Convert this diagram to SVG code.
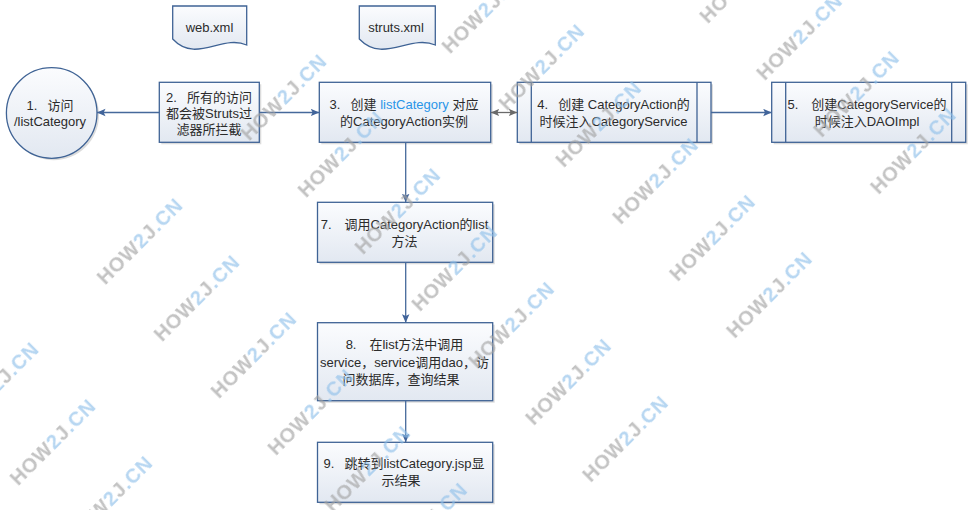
<svg xmlns="http://www.w3.org/2000/svg" width="975" height="510" viewBox="0 0 975 510">
<defs>
<linearGradient id="g" x1="0" y1="0" x2="0" y2="1"><stop offset="0" stop-color="#fbfcfe"/><stop offset="1" stop-color="#e2e8f1"/></linearGradient>
<marker id="ah" markerUnits="userSpaceOnUse" markerWidth="10" markerHeight="9" refX="8.5" refY="4" orient="auto"><path d="M0,0.3 L8.5,4 L0,7.7 L1.8,4 Z" fill="#41649a"/></marker>
<marker id="gh" markerUnits="userSpaceOnUse" markerWidth="10" markerHeight="9" refX="8.5" refY="4" orient="auto-start-reverse"><path d="M0,0.3 L8.5,4 L0,7.7 L1.8,4 Z" fill="#6a6a6a"/></marker>
<pattern id="wm" patternUnits="userSpaceOnUse" x="0" y="0" width="203.6" height="80.5">
<text x="76" y="34.5" font-family="Liberation Sans, sans-serif" font-weight="bold" font-size="20" letter-spacing="0.8"><tspan fill="#a3a3a3">HOW</tspan><tspan fill="#8fc0ea">2</tspan><tspan fill="#a3a3a3">J</tspan><tspan fill="#8fc0ea">.CN</tspan></text>
</pattern>
</defs>
<style>
.box{fill:url(#g);stroke:#3f6395;stroke-width:1.3}
.ln{fill:none;stroke:#3f6395;stroke-width:1.3}
.sh{fill:#dcdcdc}
.t{font-family:"Liberation Sans","Noto Sans CJK SC",sans-serif;font-size:13px;fill:#2b2b2b;text-anchor:middle}
.b{fill:#2a95e8}
.c{fill:none;stroke:#46699b;stroke-width:1.3;marker-end:url(#ah)}
.cg{fill:none;stroke:#6a6a6a;stroke-width:1.3;marker-start:url(#gh);marker-end:url(#gh)}
</style>
<rect width="975" height="510" fill="#ffffff"/>

<g id="web-xml">
<path class="box" d="M172.7,6 H246.7 V45 C222,34 196,64 172.7,39 Z"/>
<text class="t" x="209.5" y="32">web.xml</text>
</g>
<g id="struts-xml">
<path class="box" d="M359.3,6 H435.3 V45 C409.9,34 383.2,64 359.3,39 Z"/>
<text class="t" x="396" y="32">struts.xml</text>
</g>

<g id="n1">
<circle class="sh" cx="53.7" cy="115" r="45.3"/>
<circle class="box" cx="51.7" cy="113" r="45.3"/>
<text class="t" x="50" y="109.6">1.&#160;&#8194;访问</text>
<text class="t" x="50" y="126.1">/listCategory</text>
</g>

<g id="n2">
<rect class="sh" x="161.3" y="84.3" width="100" height="60"/>
<rect class="box" x="159.3" y="82.3" width="100" height="60"/>
<text class="t" x="209" y="101.5">2.&#160;&#8194;所有的访问</text>
<text class="t" x="209" y="118">都会被Struts过</text>
<text class="t" x="209" y="134.4">滤器所拦截</text>
</g>

<g id="n3">
<rect class="sh" x="321.3" y="84.3" width="171.4" height="60"/>
<rect class="box" x="319.3" y="82.3" width="171.4" height="60"/>
<text class="t" x="404" y="109">3.&#160;&#8194;创建 <tspan class="b">listCategory</tspan> 对应</text>
<text class="t" x="404" y="125.5">的CategoryAction实例</text>
</g>

<g id="n4">
<rect class="sh" x="519.3" y="84.3" width="193.7" height="60"/>
<rect class="box" x="517.3" y="82.3" width="193.7" height="60"/>
<path class="ln" d="M531.3,82.3 V142.3 M697,82.3 V142.3"/>
<text class="t" x="613.5" y="109">4.&#160;&#8194;创建 CategoryAction的</text>
<text class="t" x="613.5" y="125.5">时候注入CategoryService</text>
</g>

<g id="n5">
<rect class="sh" x="773.7" y="84.3" width="194" height="60"/>
<rect class="box" x="771.7" y="82.3" width="194" height="60"/>
<path class="ln" d="M785.7,82.3 V142.3 M951.7,82.3 V142.3"/>
<text class="t" x="867" y="109">5.&#8194;&#8194;创建CategoryService的</text>
<text class="t" x="867" y="125.5">时候注入DAOImpl</text>
</g>

<g id="n7">
<rect class="sh" x="319.5" y="204.3" width="175.2" height="60"/>
<rect class="box" x="317.5" y="202.3" width="175.2" height="60"/>
<text class="t" x="404.5" y="229">7.&#8194;&#8194;调用CategoryAction的list</text>
<text class="t" x="404.5" y="246">方法</text>
</g>

<g id="n8">
<rect class="sh" x="319.5" y="324.7" width="175.2" height="78"/>
<rect class="box" x="317.5" y="322.7" width="175.2" height="78"/>
<text class="t" x="404.5" y="349">8.&#8194;&#8194;在list方法中调用</text>
<text class="t" x="404.5" y="366.5">service，service调用dao，访</text>
<text class="t" x="401" y="384">问数据库，查询结果</text>
</g>

<g id="n9">
<rect class="sh" x="319.5" y="444.3" width="175.2" height="60"/>
<rect class="box" x="317.5" y="442.3" width="175.2" height="60"/>
<text class="t" x="404" y="468.2">9.&#160;&#8194;跳转到listCategory.jsp显</text>
<text class="t" x="401" y="485">示结果</text>
</g>

<g id="connectors">
<path class="c" d="M159.3,112.5 H97"/>
<path class="c" d="M259.3,112.5 H319.3"/>
<path class="cg" d="M490.7,112.5 H517.3"/>
<path class="c" d="M711,112.5 H771.7"/>
<path class="c" d="M405.7,142.3 V202.3"/>
<path class="c" d="M405.7,262.3 V322.7"/>
<path class="c" d="M405.7,400.7 V442.3"/>
</g>

<g id="watermark" transform="rotate(-45)" opacity="0.65" pointer-events="none">
<rect x="-500" y="241.5" width="1400" height="563.5" fill="url(#wm)"/>
</g>
</svg>
